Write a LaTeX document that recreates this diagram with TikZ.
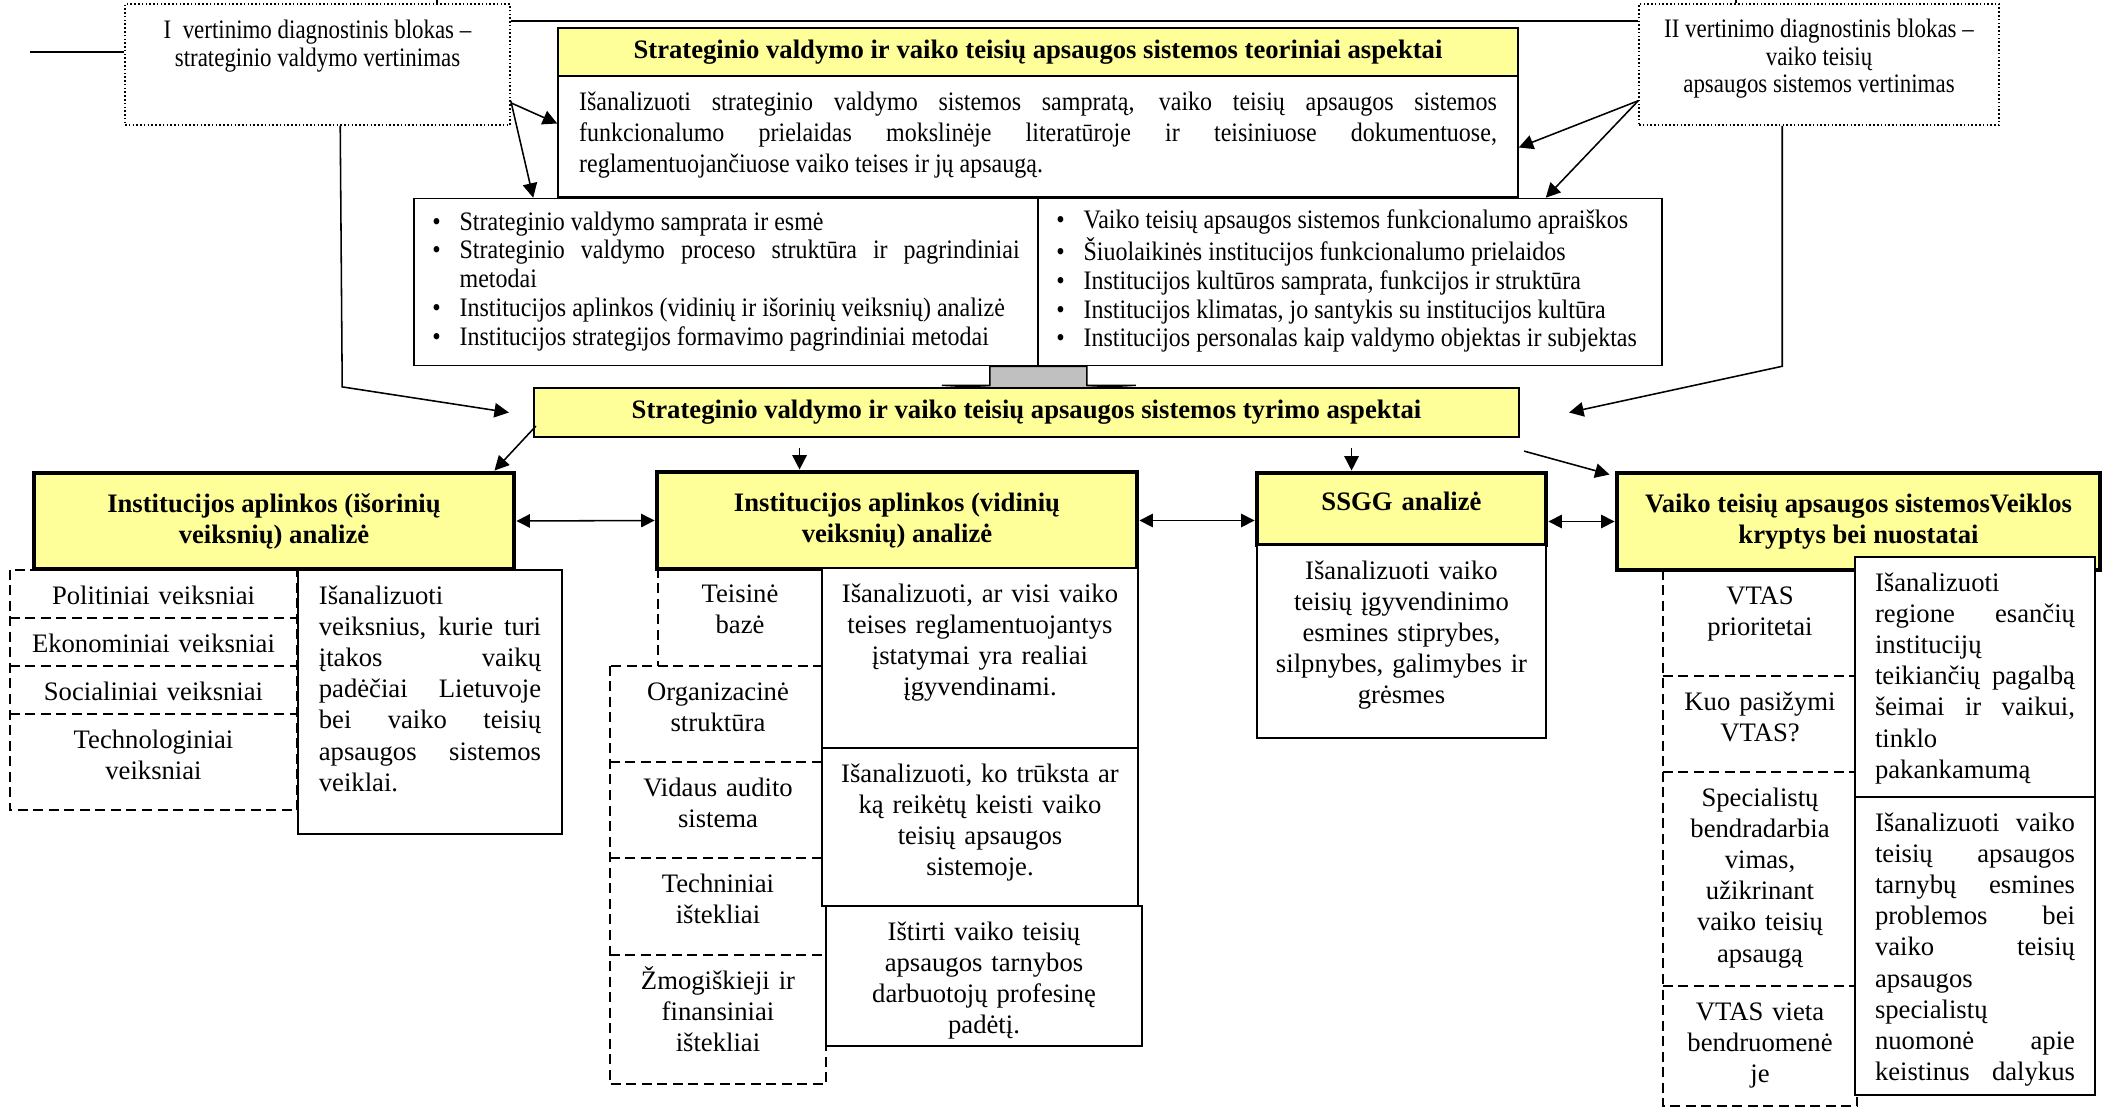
\documentclass[tikz,border=0pt]{standalone}
\usepackage{fontspec}
\setmainfont{Liberation Serif}
\newfontfamily\narrowfont[FakeStretch=0.9]{Liberation Serif}
\newfontfamily\tightfont[FakeStretch=0.86]{Liberation Serif}
\usepackage{tikz}
\usetikzlibrary{shapes,arrows,arrows.meta}
\hyphenpenalty=10000
\exhyphenpenalty=10000
\definecolor{lightyellow}{RGB}{255,255,153}
\definecolor{arrowgray}{RGB}{192,192,192}
\newcommand{\unitpx}{0.45pt}
\newcommand{\bodyfont}{\fontsize{12}{14}\selectfont}
\newcommand{\thinfont}{\narrowfont\fontsize{12}{13}\selectfont}
\newcommand{\dotfont}{\tightfont\fontsize{12}{12.5}\selectfont}
\newcommand{\dotitem}{\textbullet}
\tikzstyle{dotbox} = [rectangle, draw, densely dotted, line width=0.7pt]
\tikzstyle{headbox} = [rectangle, draw, line width=1pt, fill=lightyellow, font=\bodyfont\bfseries]
\tikzstyle{bigbox} = [rectangle, draw, line width=2.2pt, fill=lightyellow, align=center, font=\bodyfont\bfseries]
\tikzstyle{block} = [rectangle, draw, line width=0.7pt, fill=white, align=center, font=\bodyfont]
\tikzstyle{cell} = [rectangle, align=center, font=\bodyfont]
\tikzstyle{dashline} = [dash pattern=on 4.5pt off 2.5pt, line width=0.9pt]
\tikzstyle{line} = [draw, line width=0.7pt, -{Triangle[length=6.5pt, width=6.5pt]}]
\tikzstyle{twoway} = [draw, line width=0.7pt, {Triangle[length=6pt, width=6pt]}-{Triangle[length=6pt, width=6pt]}]
\tikzset{sized/.style 2 args={minimum width=#1*\unitpx, text width=#1*\unitpx-8pt, inner xsep=4pt, inner ysep=0pt, text height=15.5pt, text depth=#2*\unitpx-15.5pt}}

\begin{document}
\begin{tikzpicture}[x=0.45pt, y=-0.45pt, auto]
\useasboundingbox (0,0) rectangle (2110,1110);

% evaluation blocks
\node [dotbox, minimum width=385*\unitpx, minimum height=121*\unitpx,
  label={[anchor=north, align=center, font=\dotfont, yshift=-4pt]north:{I\ \ vertinimo diagnostinis blokas –\\strateginio valdymo vertinimas}}] at (317.5, 64.5) (evalA) {};
\node [dotbox, minimum width=360*\unitpx, minimum height=121*\unitpx,
  label={[anchor=north, align=center, font=\dotfont, yshift=-3.5pt]north:{II vertinimo diagnostinis blokas –\\vaiko teisių\\apsaugos sistemos vertinimas}}] at (1819, 64.5) (evalB) {};
\coordinate (upA) at (437, 0);
\coordinate (upB) at (1736, 0);
\coordinate (leftEnd) at (30, 52);
\draw [line width=1pt] ([yshift=-18*\unitpx]evalA.north east) -- ([yshift=-18*\unitpx]evalB.north west);
\draw [line width=0.7pt] (upA) -- (upA |- evalA.north);
\draw [line width=0.7pt] (upB) -- (upB |- evalB.north);
\draw [line width=1pt] (leftEnd) -- (leftEnd -| evalA.west);

% theory
\node [block, font=\narrowfont\bodyfont, sized={960}{121}, text width=413pt, align=justify] at (1038, 136.5) (theoText) {Išanalizuoti strateginio valdymo sistemos sampratą, vaiko teisių apsaugos sistemos\linebreak funkcionalumo prielaidas mokslinėje literatūroje ir teisiniuose dokumentuose,\linebreak reglamentuojančiuose vaiko teises ir jų apsaugą.};
\node [headbox, minimum width=960*\unitpx, minimum height=48*\unitpx] at (1038, 52) (theoTitle) {Strateginio valdymo ir vaiko teisių apsaugos sistemos teoriniai aspektai};

\node [block, font=\thinfont, minimum width=624*\unitpx, minimum height=167*\unitpx] at (726, 282) (basicsA) {\begin{tabular}{@{}l@{\hspace{8.5pt}}p{252pt}@{}}
\dotitem & Strateginio valdymo samprata ir esmė\\
\dotitem & Strateginio valdymo proceso struktūra ir pagrindiniai metodai\\
\dotitem & Institucijos aplinkos (vidinių ir išorinių veiksnių) analizė\\
\dotitem & Institucijos strategijos formavimo pagrindiniai metodai
\end{tabular}};
\node [block, font=\thinfont, minimum width=624*\unitpx, minimum height=167*\unitpx] at (1350, 282) (basicsB) {\begin{tabular}{@{}l@{\hspace{8.5pt}}p{252pt}@{}}
\dotitem & Vaiko teisių apsaugos sistemos funkcionalumo apraiškos\\
\dotitem & Šiuolaikinės institucijos funkcionalumo prielaidos\\
\dotitem & Institucijos kultūros samprata, funkcijos ir struktūra\\
\dotitem & Institucijos klimatas, jo santykis su institucijos kultūra\\
\dotitem & Institucijos personalas kaip valdymo objektas ir subjektas
\end{tabular}};

\filldraw [fill=arrowgray, line width=0.7pt] ([xshift=-49*\unitpx]basicsA.south east) -- ++(0,19) -- ++(-48,0) -- ([yshift=-24*\unitpx]basicsA.south east) -- ++(97,-5) -- ++(-49,0) -- ++(0,-19) -- cycle;

% research aspects
\node [headbox, minimum width=985*\unitpx, minimum height=49*\unitpx] at (1026.5, 412.5) (study) {Strateginio valdymo ir vaiko teisių apsaugos sistemos tyrimo aspektai};

\node [bigbox, minimum width=480*\unitpx, minimum height=96*\unitpx] at (274, 521) (outside) {Institucijos aplinkos (išorinių\\veiksnių) analizė};
\node [bigbox, minimum width=480*\unitpx, minimum height=97*\unitpx] at (897, 520.5) (inside) {Institucijos aplinkos (vidinių\\veiksnių) analizė};
\node [bigbox, sized={289}{72}, text height=17pt, text depth=72*\unitpx-17pt] at (1401.5, 509) (ssgg) {SSGG analizė};
\node [bigbox, minimum width=483*\unitpx, minimum height=97*\unitpx] at (1858.5, 521.5) (goals) {Vaiko teisių apsaugos sistemosVeiklos\\kryptys bei nuostatai};

% external factors
\node [cell, sized={287}{48}] at (153.5, 594) (pol) {Politiniai veiksniai};
\node [cell, sized={287}{48}] at (153.5, 642) (eco) {Ekonominiai veiksniai};
\node [cell, sized={287}{48}] at (153.5, 690) (soc) {Socialiniai veiksniai};
\node [cell, sized={287}{96}] at (153.5, 762) (techA) {Technologiniai\\veiksniai};
\draw [dashline] (pol.north west) rectangle (techA.south east);
\draw [dashline] (pol.south west) -- (pol.south east);
\draw [dashline] (eco.south west) -- (eco.south east);
\draw [dashline] (soc.south west) -- (soc.south east);
\node [block, sized={264}{264}, text width=100pt, align=justify] at (430, 702) (outsideText) {Išanalizuoti\newline veiksnius, kurie turi\linebreak įtakos vaikų\linebreak padėčiai Lietuvoje\linebreak bei vaiko teisių\linebreak apsaugos sistemos\linebreak veiklai.};

% internal factors
\node [cell, sized={164}{98}] at (740, 617) (legal) {Teisinė\\bazė};
\node [cell, sized={216}{96}] at (718, 714) (org) {Organizacinė\\struktūra};
\node [cell, sized={216}{96}] at (718, 810) (audit) {Vidaus audito\\sistema};
\node [cell, sized={216}{97}] at (718, 906.5) (techB) {Techniniai\\ištekliai};
\node [cell, sized={216}{129}] at (718, 1019.5) (human) {Žmogiškieji ir\\finansiniai\\ištekliai};
\draw [dashline] (legal.north west) -- (legal.south west);
\draw [dashline] (org.north west) rectangle (human.south east);
\draw [dashline] (org.south west) -- (org.south east);
\draw [dashline] (audit.south west) -- (audit.south east);
\draw [dashline] (techB.south west) -- (techB.south east);
\node [block, sized={316}{180}] at (980, 658) (lawText) {Išanalizuoti, ar visi vaiko\\teises reglamentuojantys\\įstatymai yra realiai\\įgyvendinami.};
\node [block, sized={316}{158}] at (980, 827) (gapText) {Išanalizuoti, ko trūksta ar\\ką reikėtų keisti vaiko\\teisių apsaugos\\sistemoje.};
\node [block, sized={316}{140}] at (984, 976) (staffText) {Ištirti vaiko teisių\\apsaugos tarnybos\\darbuotojų profesinę\\padėtį.};

% swot
\node [block, sized={289}{193}] at (1401.5, 641.5) (ssggText) {Išanalizuoti vaiko\\teisių įgyvendinimo\\esmines stiprybes,\\silpnybes, galimybes ir\\grėsmes};

% directions
\node [cell, sized={194}{106}] at (1760, 623) (prio) {VTAS\\prioritetai};
\node [cell, sized={194}{96}] at (1760, 724) (trait) {Kuo pasižymi\\VTAS?};
\node [cell, sized={194}{214}] at (1760, 879) (coop) {Specialistų\\bendradarbia\\vimas,\\užikrinant\\vaiko teisių\\apsaugą};
\node [cell, sized={194}{120}] at (1760, 1046) (place) {VTAS vieta\\bendruomenė\\je};
\draw [dashline] (prio.north west) rectangle (place.south east);
\draw [dashline] (prio.south west) -- (prio.south east);
\draw [dashline] (trait.south west) -- (trait.south east);
\draw [dashline] (coop.south west) -- (coop.south east);
\node [block, sized={240}{240}, text width=90pt, align=justify] at (1975, 677) (netText) {Išanalizuoti\newline regione esančių\linebreak institucijų\newline teikiančių pagalbą\linebreak šeimai ir vaikui,\linebreak tinklo\newline pakankamumą};
\node [block, sized={240}{298}, text width=90pt, align=justify] at (1975, 946) (opinionText) {Išanalizuoti vaiko\linebreak teisių apsaugos\linebreak tarnybų esmines\linebreak problemos bei\linebreak vaiko teisių\linebreak apsaugos\newline specialistų\newline nuomonė apie\linebreak keistinus\hfill dalykus};

% connectors
\path [line] ([yshift=23*\unitpx]evalA.south east) to ([yshift=13*\unitpx]theoText.west);
\path [line] ([yshift=25*\unitpx]evalA.south east) to ([xshift=120*\unitpx]basicsA.north west);
\path [line] ([yshift=25*\unitpx]evalB.south west) to ([yshift=-11*\unitpx]theoText.east);
\path [line] ([yshift=25*\unitpx]evalB.south west) to ([xshift=-117*\unitpx]basicsB.north east);
\path [line] ([xshift=216*\unitpx]evalA.south west) -- ([xshift=218*\unitpx]evalA.south west |- study.north) -- ([xshift=-24*\unitpx]study.west);
\path [line] ([xshift=144*\unitpx]evalB.south west) -- ([xshift=144*\unitpx]evalB.south west |- basicsB.south) -- ([xshift=49*\unitpx]study.east);

\path [line] ([shift={(3,-12)}]study.south west) -- ([xshift=-22*\unitpx]outside.north east);
\path [line] ([shift={(145,-22)}]inside.north west) -- ([xshift=145*\unitpx]inside.north west);
\path [line] ([shift={(97,-23)}]ssgg.north west) -- ([xshift=97*\unitpx]ssgg.north west);
\path [line] ([shift={(4,13)}]study.south east) -- ([shift={(-5,4)}]goals.north west);

\path [twoway] (outside.east) -- (inside.west);
\path [twoway] (inside.east) -- (inside.east -| ssgg.west);
\path [twoway] (goals.west -| ssgg.east) -- (goals.west);

\end{tikzpicture}
\end{document}
